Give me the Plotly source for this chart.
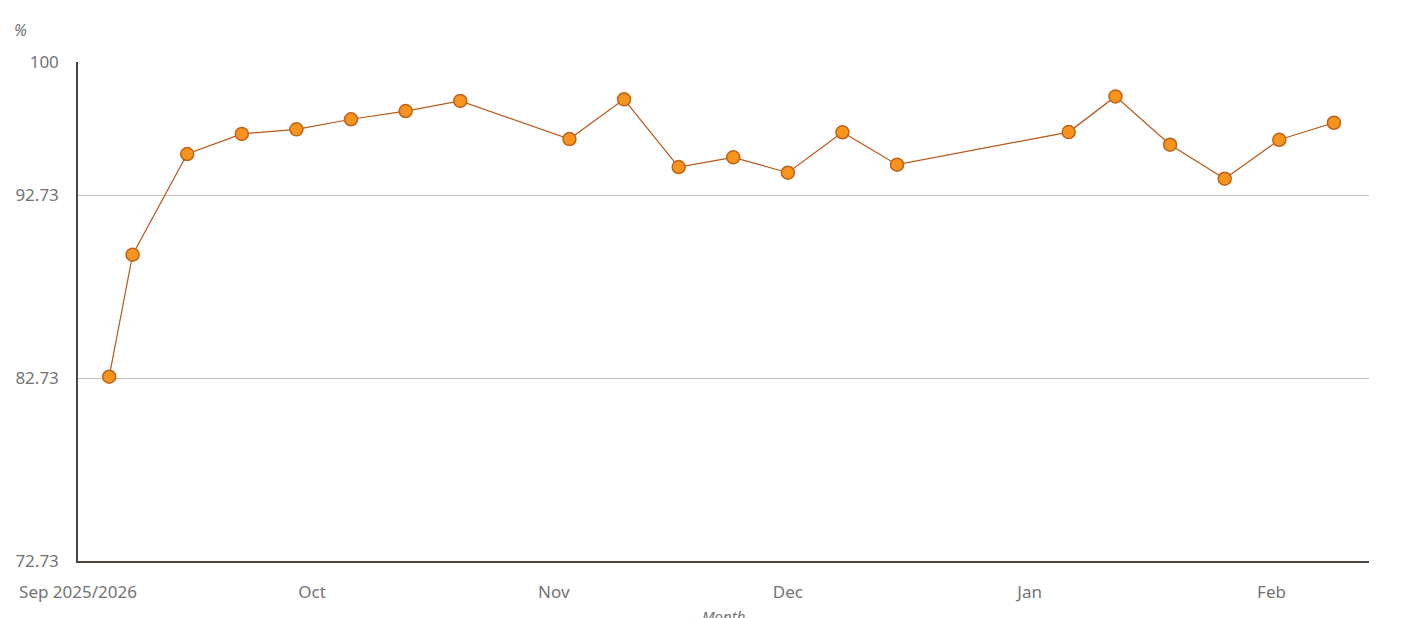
import plotly.graph_objects as go

dates = ["2025-09-05", "2025-09-08", "2025-09-15", "2025-09-22", "2025-09-29",
         "2025-10-06", "2025-10-13", "2025-10-20", "2025-11-03", "2025-11-10",
         "2025-11-17", "2025-11-24", "2025-12-01", "2025-12-08", "2025-12-15",
         "2026-01-06", "2026-01-12", "2026-01-19", "2026-01-26", "2026-02-02",
         "2026-02-09"]
values = [82.8, 89.47, 94.97, 96.07, 96.32, 96.87, 97.32, 97.87, 95.79, 97.96,
          94.26, 94.79, 93.95, 96.16, 94.39, 96.17, 98.12, 95.48, 93.62, 95.75,
          96.68]

y_ticks = [72.73, 82.73, 92.73, 100]
y_tick_labels = ["72.73", "82.73", "92.73", "100"]
x_tick_dates = ["2025-09-01", "2025-10-01", "2025-11-01", "2025-12-01", "2026-01-01", "2026-02-01"]
x_tick_labels = ["Sep 2025/2026", "Oct", "Nov", "Dec", "Jan", "Feb"]

FONT = "Noto Sans"
TXT = "#737373"

fig = go.Figure()
fig.add_trace(go.Scatter(
    x=dates, y=values, mode="lines+markers",
    line=dict(color="#b8581b", width=1.2),
    marker=dict(size=13, color="#f7941d", line=dict(color="#c0621e", width=1.5)),
    showlegend=False,
))

fig.update_layout(
    width=1408, height=618,
    margin=dict(l=70, r=47, t=54, b=65, autoexpand=False),
    paper_bgcolor="white", plot_bgcolor="white",
    font=dict(family=FONT, color=TXT, size=17),
    xaxis=dict(
        range=["2025-09-01", "2026-02-13 12:00"],
        tickvals=x_tick_dates, ticktext=x_tick_labels,
        showgrid=False, zeroline=False, automargin=False,
        showline=True, linecolor="#4d4540", linewidth=1.5,
        ticks="", ticklabelstandoff=15,
        tickfont=dict(size=17, color=TXT, family=FONT),
    ),
    yaxis=dict(
        range=[72.73, 100],
        tickvals=y_ticks, ticktext=y_tick_labels,
        showgrid=True, gridcolor="#c4c0b8", gridwidth=1.3,
        zeroline=False, automargin=False,
        showline=True, linecolor="#4d4540", linewidth=1.5,
        ticks="", ticklabelstandoff=14,
        tickfont=dict(size=17, color=TXT, family=FONT),
    ),
    annotations=[
        dict(text="%", xref="paper", yref="paper", x=-0.0449, y=1.064,
             xanchor="center", yanchor="middle", showarrow=False,
             font=dict(size=16, color=TXT, family=FONT, style="italic")),
        dict(text="Month", xref="paper", yref="paper", x=0.5, y=-0.086,
             xanchor="center", yanchor="top", showarrow=False,
             font=dict(size=15, color=TXT, family=FONT, style="italic")),
    ],
)

fig.write_html("out.html")
